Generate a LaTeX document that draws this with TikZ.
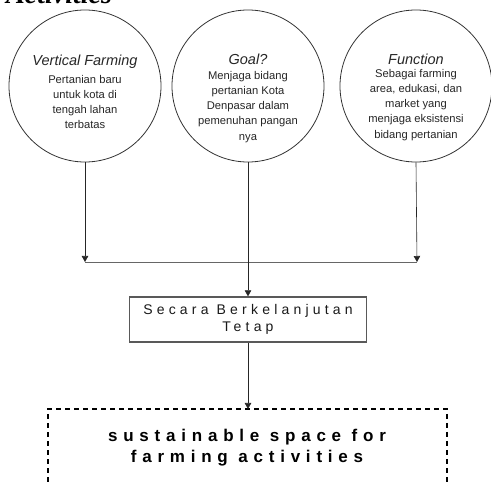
\documentclass[tikz,border=0pt]{standalone}
\usepackage{fontspec}
\setmainfont{Liberation Sans}
\newfontfamily\headserif{Liberation Serif}
\newfontfamily\trackedsans[LetterSpace=30]{Liberation Sans}
\newfontfamily\widesans[LetterSpace=34]{Liberation Sans}
\usetikzlibrary{arrows.meta}

\tikzset{
  idea/.style={circle, draw=black!80, line width=0.8pt, minimum size=152pt, inner sep=0pt},
  ideatext/.style={anchor=north, align=center, inner sep=0pt, text=black!85,
    font=\fontsize{11.2}{15.3}\selectfont},
  flow/.style={draw=black!85, line width=0.6pt, -{Triangle[length=6pt,width=6.5pt]}},
  stepbox/.style={draw=black!65, line width=1.3pt, minimum width=237pt, minimum height=45pt,
    inner sep=0pt, align=center, text=black!90, font=\fontsize{14}{17}\trackedsans},
  frame/.style={draw=black, line width=1.2pt, dash pattern=on 5pt off 4pt},
}

\begin{document}
\begin{tikzpicture}[x=1pt, y=-1pt]
\useasboundingbox (0,0) rectangle (491,486);

\node[anchor=base west, inner sep=0pt, font=\fontsize{28}{28}\headserif\bfseries\itshape] (head) at (6,4) {Activities};

\node[idea] (vf) at (85,86) {};
\node[idea] (goal) at (248,86) {};
\node[idea] (func) at (416,86) {};

\node[ideatext] (vftext) at ([yshift=31pt]vf.center)
  {{\fontsize{14.5}{17}\selectfont\itshape Vertical Farming}\\[2pt]
   Pertanian baru\\ untuk kota di\\ tengah lahan\\ terbatas};
\node[ideatext] (goaltext) at ([yshift=32pt]goal.center)
  {{\fontsize{14.5}{17}\selectfont\itshape Goal?}\\[-1pt]
   Menjaga bidang\\ pertanian Kota\\ Denpasar dalam\\ pemenuhan pangan\\ nya};
\node[ideatext] (functext) at ([yshift=32pt]func.center)
  {{\fontsize{14.5}{17}\selectfont\itshape Function}\\[-3pt]
   Sebagai farming\\ area, edukasi, dan\\ market yang\\ menjaga eksistensi\\ bidang pertanian};

\coordinate (jl) at (85,262);
\coordinate (jr) at (417,262);

\node[stepbox] (tetap) at (248,319.5) {Secara Berkelanjutan\\ Tetap};

\draw[frame] (48,500) -- (48,409) -- (447,409) -- (447,500);
\coordinate (ftop) at (248,409);
\node[align=center, inner sep=0pt, font=\fontsize{17}{21}\widesans\bfseries] (space) at (247,447.5)
  {sustainable space for\\ farming activities};

\draw[flow] (vf.south) -- (jl);
\draw[flow] (func.south) -- (jr);
\draw[draw=black!60, line width=0.8pt] (jl) -- (jr);
\draw[flow] (goal.south) -- (tetap.north);
\draw[flow] (tetap.south) -- (ftop);
\end{tikzpicture}
\end{document}
